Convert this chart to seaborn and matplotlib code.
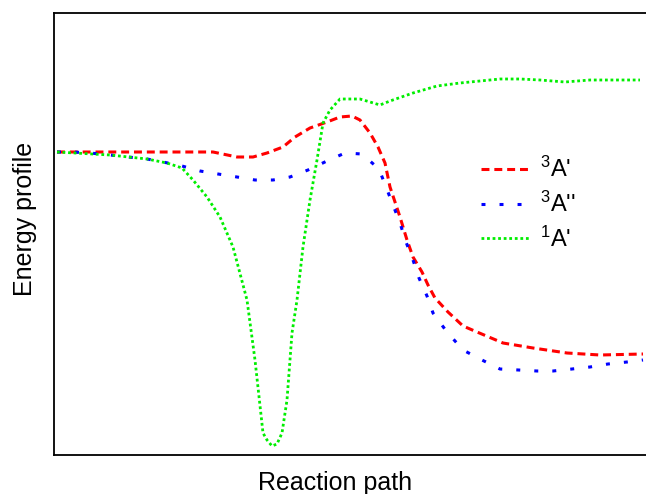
import matplotlib
matplotlib.use("Agg")
import matplotlib.pyplot as plt
import seaborn as sns

# values: reaction coordinate vs energy (arbitrary units)
red_x = [3, 46, 96, 159, 183, 199, 213, 229, 241, 256, 273, 286, 298, 306, 316, 324,
         331, 336, 346, 353, 359, 368, 374, 381, 394, 409, 423, 449, 479, 513, 546, 589]
red_y = [303, 303, 303, 303, 298, 298, 302, 308, 318, 327, 333, 338, 339, 335, 322, 308,
         292, 268, 238, 215, 198, 183, 170, 157, 143, 129, 123, 112, 107, 102, 100, 101]

blue_x = [3, 19, 36, 56, 74, 93, 109, 128, 146, 164, 183, 201, 219, 236, 254, 273, 291,
          308, 325, 332, 339, 346, 352, 359, 365, 373, 379, 393, 409, 428, 446, 483, 499,
          518, 536, 554, 573, 589]
blue_y = [303, 303, 302, 300, 298, 296, 293, 289, 284, 281, 278, 275, 275, 278, 285, 294,
          302, 301, 286, 268, 250, 232, 213, 195, 177, 159, 142, 123, 105, 95, 86, 84, 84,
          86, 88, 91, 93, 95]

green_x = [3, 56, 93, 113, 128, 139, 153, 166, 179, 193, 201, 209, 213, 218, 223, 228,
           233, 238, 243, 249, 256, 263, 269, 276, 286, 306, 326, 336, 359, 383, 406, 426,
           446, 466, 486, 511, 536, 586]
green_y = [303, 300, 296, 292, 287, 275, 258, 238, 208, 155, 95, 22, 15, 9, 11, 22, 55,
           122, 155, 208, 255, 295, 332, 345, 356, 356, 350, 354, 362, 369, 372, 374, 376,
           376, 375, 373, 375, 375]

labels = ["$^3$A'", "$^3$A''", "$^1$A'"]

sns.set_style("white")
plt.rcParams["font.family"] = ["Liberation Sans", "DejaVu Sans"]
plt.rcParams["mathtext.fontset"] = "custom"
plt.rcParams["mathtext.rm"] = "Liberation Sans"
plt.rcParams["mathtext.it"] = "Liberation Sans"
plt.rcParams["text.color"] = "black"
plt.rcParams["axes.labelcolor"] = "black"

fig = plt.figure(figsize=(6.46, 4.94), dpi=100)
ax = fig.add_axes([54 / 646, 39 / 494, 592 / 646, 442 / 494])

sns.lineplot(x=red_x, y=red_y, ax=ax, color="#ff0000", lw=2.2,
             linestyle=(0, (2.6, 1.6)), label=labels[0])
sns.lineplot(x=blue_x, y=blue_y, ax=ax, color="#0000ff", lw=2.2,
             linestyle=(0, (1.3, 4.6)), label=labels[1])
sns.lineplot(x=green_x, y=green_y, ax=ax, color="#00ee00", lw=2.0,
             linestyle=(0, (1.0, 1.0)), label=labels[2])

ax.set_xlim(0, 592)
ax.set_ylim(0, 442)
ax.set_xticks([])
ax.set_yticks([])
for s in ["left", "top", "bottom"]:
    ax.spines[s].set_color("black")
    ax.spines[s].set_linewidth(1.3)
ax.spines["right"].set_visible(False)

ax.set_xlabel("Reaction path", fontsize=18)
ax.set_ylabel("Energy profile", fontsize=18)
ax.xaxis.set_label_coords(0.475, -0.037)
ax.yaxis.set_label_coords(-0.029, 0.534)

ax.legend(loc="upper left", bbox_to_anchor=(0.685, 0.722), frameon=False,
          fontsize=17, handlelength=2.1, handletextpad=0.4, labelspacing=0.4)

fig.savefig("out.png", dpi=100)
